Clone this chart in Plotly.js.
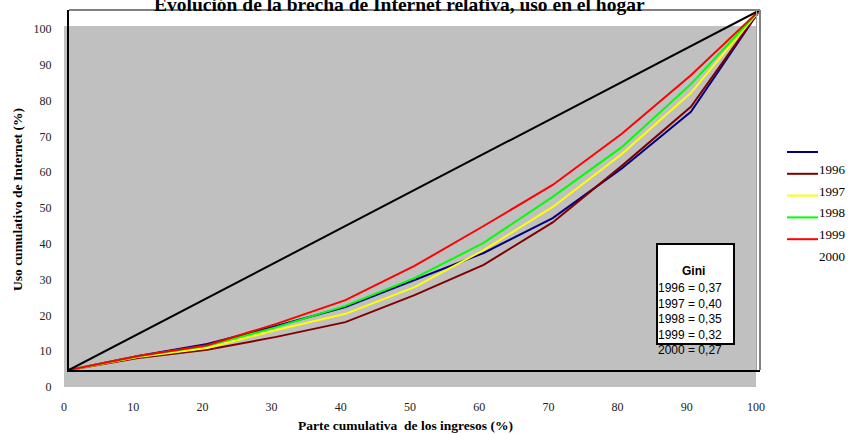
<!DOCTYPE html>
<html>
<head>
<meta charset="utf-8">
<script src="https://cdn.plot.ly/plotly-3.0.1.min.js"></script>
<style>
  html, body {margin: 0; padding: 0; background: #fff;}
  #chart {width: 848px; height: 434px;}
</style>
</head>
<body>
<div id="chart"></div>
<script>
// cumulative income share (deciles) and cumulative Internet use, %
const deciles = [0, 10, 20, 30, 40, 50, 60, 70, 80, 90, 100]
const use1996 = [0, 3.9, 7.2, 12.2, 17.5, 25.0, 32.5, 42.2, 56.0, 71.7, 100]
const use1997 = [0, 3.3, 5.6, 9.2, 13.3, 20.8, 29.2, 41.0, 56.7, 73.1, 100]
const use1998 = [0, 3.6, 6.1, 11.1, 15.6, 23.0, 33.3, 45.3, 60.0, 77.0, 100]
const use1999 = [0, 3.8, 6.7, 11.9, 17.8, 25.5, 35.3, 48.1, 61.9, 79.4, 100]
const use2000 = [0, 3.9, 6.9, 12.8, 19.4, 28.9, 40.0, 51.4, 65.6, 81.9, 100]
const equality = [0, 100]

const years = ['1996', '1997', '1998', '1999', '2000']
const series = [use1996, use1997, use1998, use1999, use2000]
const colors = ['#000080', '#800000', '#ffff00', '#00ff00', '#ff0000']
const giniValues = ['0,37', '0,40', '0,35', '0,32', '0,27']

const W = 848, H = 434
const M = {l: 64, r: 88, t: 10, b: 47}
// pixel -> paper helpers for decorations outside the data area
const px = (p) => (p - M.l) / (W - M.l - M.r)
const py = (q) => (H - M.b - q) / (H - M.t - M.b)

const SERIF = '"Liberation Serif", "Times New Roman", serif'
const SANS = '"Liberation Sans", Arial, sans-serif'

const data = series.map((ys, i) => ({
  x: deciles,
  y: ys,
  xaxis: 'x2',
  yaxis: 'y2',
  type: 'scatter',
  mode: 'lines',
  name: years[i],
  line: {color: colors[i], width: 2},
  hoverinfo: 'skip',
  showlegend: false
}))
data.push({
  x: equality,
  y: equality,
  xaxis: 'x2',
  yaxis: 'y2',
  type: 'scatter',
  mode: 'lines',
  line: {color: '#000', width: 2},
  hoverinfo: 'skip',
  showlegend: false
})
// invisible trace so the main axes get drawn
data.push({x: [0], y: [0], type: 'scatter', mode: 'markers', marker: {opacity: 0}, hoverinfo: 'skip', showlegend: false})

const shapes = [
  // grey plot area of the main axes
  {type: 'rect', xref: 'x domain', yref: 'y domain', x0: 0, x1: 1, y0: 0, y1: 1,
    fillcolor: '#c0c0c0', line: {width: 0}, layer: 'below'},
  // frame of the offset area
  {type: 'line', xref: 'x2 domain', yref: 'y2 domain', x0: 0, x1: 1, y0: 1, y1: 1,
    line: {color: '#808080', width: 2}},
  {type: 'line', xref: 'x2 domain', yref: 'y2 domain', x0: 1, x1: 1, y0: 0, y1: 1,
    line: {color: '#808080', width: 2}},
  {type: 'line', xref: 'paper', yref: 'y2 domain', x0: px(756.5), x1: px(756.5), y0: 0, y1: 1,
    line: {color: '#a0a0a0', width: 1}},
  // Gini box
  {type: 'rect', xref: 'paper', yref: 'paper', x0: px(657), x1: px(734), y0: py(344), y1: py(244),
    fillcolor: '#fff', line: {color: '#000', width: 2}}
]

const annotations = [
  {text: '<b>Evolución de la brecha de Internet relativa, uso en el hogar</b>', xref: 'paper', yref: 'paper',
    x: px(399), y: 1, yshift: 6, xanchor: 'center', yanchor: 'middle', showarrow: false,
    font: {family: SERIF, size: 19.5, color: '#000'}},
  {text: '<b>Parte cumulativa  de los ingresos (%)</b>', xref: 'paper', yref: 'paper',
    x: px(405), y: py(425), xanchor: 'center', yanchor: 'middle', showarrow: false,
    font: {family: SERIF, size: 13.5, color: '#000'}},
  {text: '<b>Uso cumulativo de Internet (%)</b>', xref: 'paper', yref: 'paper', textangle: -90,
    x: px(17), y: py(200), xanchor: 'center', yanchor: 'middle', showarrow: false,
    font: {family: SERIF, size: 13.5, color: '#000'}},
  {text: '<b>Gini</b>', xref: 'paper', yref: 'paper', x: px(693), y: py(271),
    xanchor: 'center', yanchor: 'middle', showarrow: false,
    font: {family: SANS, size: 12, color: '#000'}},
  {text: years.map((y, i) => `${y} = ${giniValues[i]}`).join('<br>'), xref: 'paper', yref: 'paper',
    x: px(656), y: py(279), xanchor: 'left', yanchor: 'top', align: 'left', showarrow: false,
    font: {family: SANS, size: 12, color: '#000'}}
]

// legend drawn by hand: the labels sit one row below their swatches, as in the original
years.forEach((year, i) => {
  const rowY = 152 + i * 21.8
  shapes.push({type: 'line', xref: 'paper', yref: 'paper', x0: px(787), x1: px(818), y0: py(rowY), y1: py(rowY),
    line: {color: colors[i], width: 2}})
  annotations.push({text: year, xref: 'paper', yref: 'paper', x: px(817), y: py(rowY + 17.3),
    xanchor: 'left', yanchor: 'middle', showarrow: false,
    font: {family: SERIF, size: 13, color: '#000'}})
})

const tickFont = {family: SERIF, size: 12, color: '#222'}

const layout = {
  width: W,
  height: H,
  margin: M,
  paper_bgcolor: '#fff',
  plot_bgcolor: 'rgba(0,0,0,0)',
  showlegend: false,
  hovermode: false,
  xaxis: {
    domain: [0, px(756)],
    range: [0, 100],
    tickvals: deciles,
    ticks: 'outside', ticklen: 9, tickcolor: 'rgba(0,0,0,0)',
    showgrid: false, zeroline: false, showline: false,
    tickfont: tickFont
  },
  yaxis: {
    domain: [0, py(26)],
    range: [0, 100.8],
    tickvals: deciles,
    ticks: 'outside', ticklen: 9, tickcolor: 'rgba(0,0,0,0)',
    showgrid: false, zeroline: false, showline: false,
    tickfont: tickFont
  },
  xaxis2: {
    domain: [px(69), 1],
    range: [0, 100],
    anchor: 'y2',
    showticklabels: false, ticks: '',
    showgrid: false, zeroline: false,
    showline: true, linecolor: '#000', linewidth: 2
  },
  yaxis2: {
    domain: [py(370), 1],
    range: [0, 100],
    anchor: 'x2',
    showticklabels: false, ticks: '',
    showgrid: false, zeroline: false,
    showline: true, linecolor: '#000', linewidth: 2
  },
  shapes,
  annotations
}

Plotly.newPlot('chart', data, layout, {staticPlot: true})
</script>
</body>
</html>
